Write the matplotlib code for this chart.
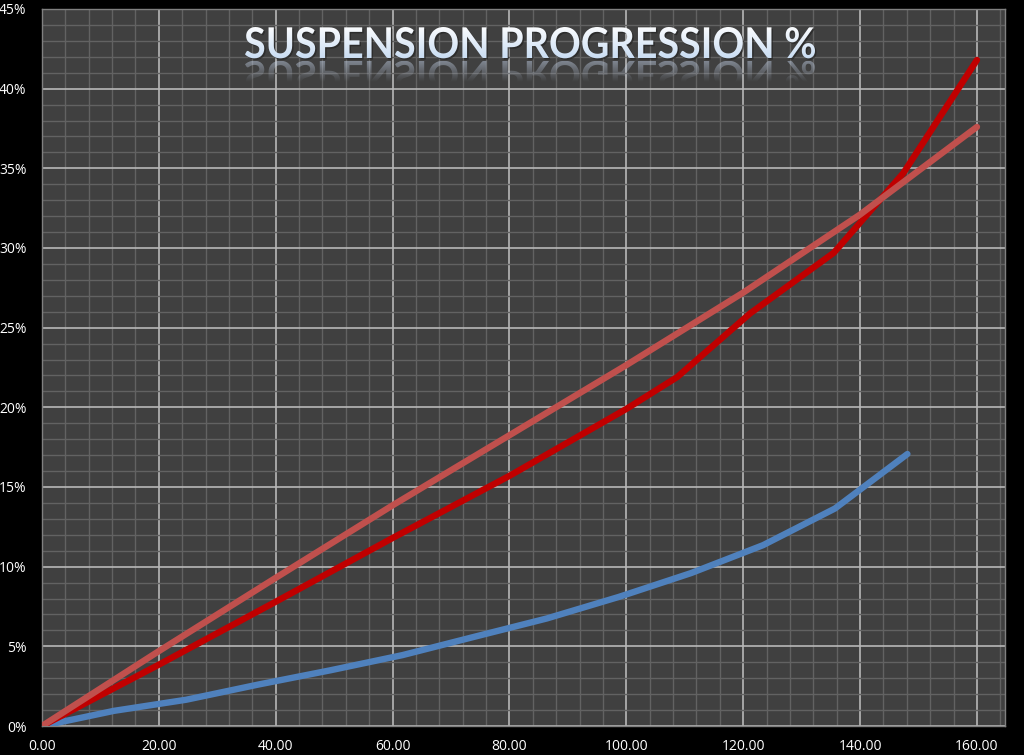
import numpy as np
import matplotlib
matplotlib.use("Agg")
import matplotlib.pyplot as plt
from matplotlib.ticker import MultipleLocator, FuncFormatter
from matplotlib.textpath import TextPath
from matplotlib.font_manager import FontProperties
from matplotlib.patches import PathPatch
from matplotlib.transforms import Affine2D

# ---- data ----
title = "SUSPENSION PROGRESSION %"
blue_x = [0, 12.3, 24.7, 37.0, 49.4, 61.7, 74.0, 86.4, 98.7, 111.1, 123.4, 135.7, 148.1]
blue_y = [0, 0.95, 1.65, 2.6, 3.5, 4.45, 5.6, 6.75, 8.1, 9.6, 11.35, 13.65, 17.07]
red_x = [0, 20, 40, 60, 80, 100, 108.7, 121.2, 135.5, 147.4, 160]
red_y = [0, 3.85, 7.8, 11.8, 15.7, 19.9, 21.9, 25.9, 29.7, 34.7, 41.8]
lred_x = [0, 20, 40, 60, 80, 100, 120, 140, 160]
lred_y = [0, 4.7, 9.3, 13.85, 18.25, 22.65, 27.2, 32.1, 37.6]
x_ticks = [0, 20, 40, 60, 80, 100, 120, 140, 160]
y_ticks = [0, 5, 10, 15, 20, 25, 30, 35, 40, 45]

W, H = 1024, 755
fig = plt.figure(figsize=(W / 100, H / 100), dpi=100, facecolor="black")
ax = fig.add_axes([42 / W, 1 - 726 / H, (1005 - 42) / W, (726 - 9) / H])
ax.set_facecolor("#404040")

ax.plot(blue_x, blue_y, color="#4f81bd", lw=4.6, solid_capstyle="round", zorder=3)
ax.plot(red_x, red_y, color="#c00000", lw=4.6, solid_capstyle="round", zorder=3)
ax.plot(lred_x, lred_y, color="#c0504d", lw=4.6, solid_capstyle="round", zorder=4)

ax.set_xlim(0, 164.8)
ax.set_ylim(0, 45)
ax.set_xticks(x_ticks)
ax.set_yticks(y_ticks)
ax.xaxis.set_minor_locator(MultipleLocator(4))
ax.yaxis.set_minor_locator(MultipleLocator(1))
ax.xaxis.set_major_formatter(FuncFormatter(lambda v, p: f"{v:.2f}"))
ax.yaxis.set_major_formatter(FuncFormatter(lambda v, p: f"{v:.0f}%"))
ax.grid(which="minor", color="#626262", lw=1.0, zorder=0)
ax.grid(which="major", color="#b8b8b8", lw=1.2, zorder=1)
ax.set_axisbelow(True)
ax.tick_params(which="both", length=0)
ax.tick_params(axis="y", pad=11, labelcolor="white", labelsize=10)
ax.tick_params(axis="x", pad=9, labelcolor="white", labelsize=10)
for lab in ax.get_xticklabels() + ax.get_yticklabels():
    lab.set_fontfamily("Open Sans")
for s in ax.spines.values():
    s.set_color("#808080")
    s.set_linewidth(1)

# ---- title with reflection ----
tax = fig.add_axes([0, 0, 1, 1], zorder=10)
tax.set_xlim(0, W)
tax.set_ylim(H, 0)
tax.axis("off")
tax.patch.set_alpha(0)

fp = FontProperties(family="Lato", weight="bold")
tp = TextPath((0, 0), title, size=100, prop=fp)
ext = tp.get_extents()
capp = TextPath((0, 0), "S", size=100, prop=fp).get_extents()
x0, x1 = 245, 815
top, base = 27, 58
sx = (x1 - x0) / ext.width
sy = (base - top) / capp.y1
main_tr = Affine2D().translate(-ext.x0, 0).scale(sx, -sy).translate(x0, base)
refl_tr = Affine2D().translate(-ext.x0, 0).scale(sx, sy * 0.9).translate(x0, base + 3)

main_path = main_tr.transform_path(tp)
refl_path = refl_tr.transform_path(tp)

g = np.linspace(0, 1, 64)[:, None]
c_top = np.array([1.0, 1.0, 1.0])
c_bot = np.array([0.78, 0.86, 0.95])
img = (c_top[None, None, :] * (1 - g[..., None]) + c_bot[None, None, :] * g[..., None])
img = np.repeat(img, 2, axis=1)
shadow = PathPatch(Affine2D().translate(1.5, 1.5).transform_path(main_path),
                   facecolor="#202020", edgecolor="none", alpha=0.6, zorder=1)
tax.add_patch(shadow)
mp = PathPatch(main_path, facecolor="none", edgecolor="none", zorder=2)
tax.add_patch(mp)
im = tax.imshow(img, extent=(x0 - 5, x1 + 5, base + 2, top - 3), aspect="auto",
                interpolation="bilinear", zorder=2)
im.set_clip_path(mp)

rg = np.linspace(0.45, 0.0, 64)
rimg = np.zeros((64, 2, 4))
rimg[..., :3] = np.array([0.80, 0.86, 0.95])
rimg[..., 3] = rg[:, None]
rp = PathPatch(refl_path, facecolor="none", edgecolor="none", zorder=2)
tax.add_patch(rp)
rim = tax.imshow(rimg, extent=(x0 - 5, x1 + 5, base + 24, base + 3), aspect="auto",
                 interpolation="bilinear", zorder=2)
rim.set_clip_path(rp)
tax.set_xlim(0, W)
tax.set_ylim(H, 0)

fig.savefig("out.png", dpi=100, facecolor="black")
